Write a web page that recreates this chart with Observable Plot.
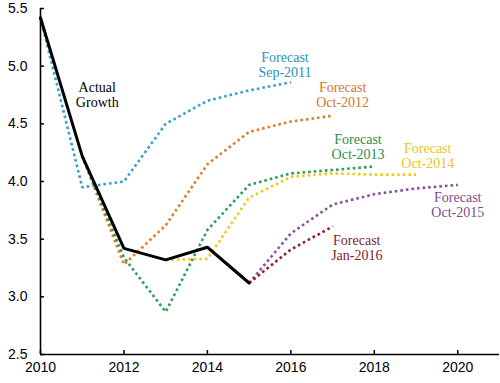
<!DOCTYPE html>
<html>
<head>
<meta charset="utf-8">
<script src="https://cdn.jsdelivr.net/npm/d3@7"></script>
<script src="https://cdn.jsdelivr.net/npm/@observablehq/plot@0.6"></script>
<style>
  html, body { margin: 0; padding: 0; background: #fff; }
  #chart svg { display: block; }
  #chart svg text.lbl { font-family: "Liberation Serif", "Times New Roman", serif; }
</style>
</head>
<body>
<div id="chart"></div>
<script>
// ---- data ----
const years = [2010, 2011, 2012, 2013, 2014, 2015, 2016, 2017, 2018, 2019, 2020];
const actualGrowth = [5.42, 4.22, 3.42, 3.32, 3.43, 3.12, null, null, null, null, null];
const forecastSep2011 = [5.42, 3.95, 4.00, 4.50, 4.70, 4.79, 4.86, null, null, null, null];
const forecastOct2012 = [null, 4.22, 3.28, 3.62, 4.15, 4.43, 4.52, 4.57, null, null, null];
const forecastOct2013 = [null, 4.22, 3.34, 2.87, 3.58, 3.97, 4.07, 4.10, 4.13, null, null];
const forecastOct2014 = [null, null, null, 3.32, 3.33, 3.86, 4.04, 4.07, 4.06, 4.06, null];
const forecastOct2015 = [null, null, null, null, null, 3.12, 3.55, 3.80, 3.89, 3.94, 3.97];
const forecastJan2016 = [null, null, null, null, null, 3.12, 3.41, 3.61, null, null, null];

const seriesNames = ["Sep-2011", "Oct-2012", "Oct-2013", "Oct-2014", "Oct-2015", "Jan-2016"];
const seriesValues = [forecastSep2011, forecastOct2012, forecastOct2013, forecastOct2014, forecastOct2015, forecastJan2016];
const seriesColors = ["#3a9fcc", "#e07d2c", "#2f9c58", "#f4c81c", "#8a50a0", "#8e1f35"];
const textColors = ["#2f8fc0", "#d2772c", "#2a8f4e", "#ecc22a", "#7c4c8e", "#7e1c30"];

const xTicks = [2010, 2012, 2014, 2016, 2018, 2020];
const yTicks = [2.5, 3.0, 3.5, 4.0, 4.5, 5.0, 5.5];

// annotation anchors (data coordinates)
const labelX = [2015.86, 2017.24, 2017.61, 2019.28, 2020.0, 2017.58];
const labelY = [5.01, 4.75, 4.30, 4.22, 3.80, 3.43];
const actualLabel = {x: 2011.36, y: 4.75, text: "Actual\nGrowth"};

// ---- build tables ----
const actualRows = years.map((yr, i) => ({year: yr, value: actualGrowth[i]})).filter(d => d.value != null);
const forecastRows = [];
seriesNames.forEach((name, s) => {
  years.forEach((yr, i) => {
    const v = seriesValues[s][i];
    if (v != null) forecastRows.push({series: name, year: yr, value: v});
  });
});
const labelRows = seriesNames.map((name, s) => ({series: name, x: labelX[s], y: labelY[s], text: "Forecast\n" + name}));

const colorOf = Object.fromEntries(seriesNames.map((n, i) => [n, seriesColors[i]]));
const textColorOf = Object.fromEntries(seriesNames.map((n, i) => [n, textColors[i]]));

const sansFont = "'Liberation Sans', Arial, sans-serif";
const serifFont = "'Liberation Serif', 'Times New Roman', serif";

const chart = Plot.plot({
  width: 500,
  height: 383,
  marginLeft: 40,
  marginRight: 1,
  marginTop: 8,
  marginBottom: 29,
  style: {background: "#fff", color: "#000", fontFamily: sansFont},
  x: {domain: [2010, 2021], ticks: xTicks, tickFormat: d => String(d)},
  y: {domain: [2.5, 5.5], ticks: yTicks, tickFormat: d3.format(".1f")},
  marks: [
    // forecast lines
    ...seriesNames.map(name => Plot.line(forecastRows.filter(d => d.series === name), {
      x: "year", y: "value",
      stroke: colorOf[name], strokeWidth: 2.6,
      strokeDasharray: "2.6 3", strokeLinecap: "butt"
    })),
    // actual line
    Plot.line(actualRows, {x: "year", y: "value", stroke: "#000", strokeWidth: 3, strokeLinejoin: "miter"}),
    // axes
    Plot.axisX({ticks: xTicks, tickSize: 0, tickPadding: 8, tickFormat: d => String(d),
      fontSize: 14, fontFamily: sansFont, label: null}),
    Plot.axisX({ticks: xTicks, tickSize: -4, tickFormat: () => "", label: null, strokeWidth: 1.5}),
    Plot.axisY({ticks: yTicks, tickSize: 0, tickPadding: 13, tickFormat: d3.format(".1f"),
      fontSize: 14, fontFamily: sansFont, label: null}),
    Plot.axisY({ticks: yTicks, tickSize: -4, tickFormat: () => "", label: null, strokeWidth: 1.5}),
    Plot.ruleX([2010], {stroke: "#000", strokeWidth: 1.6}),
    Plot.ruleY([2.5], {stroke: "#000", strokeWidth: 1.6}),
    // labels
    Plot.text(labelRows, {x: "x", y: "y", text: "text", fill: d => textColorOf[d.series],
      fontSize: 14, fontFamily: serifFont, className: "lbl", lineHeight: 1.07,
      textAnchor: "middle", lineAnchor: "middle"}),
    Plot.text([actualLabel], {x: "x", y: "y", text: "text", fill: "#000",
      fontSize: 14, fontFamily: serifFont, className: "lbl", lineHeight: 1.07,
      textAnchor: "middle", lineAnchor: "middle"})
  ]
});
document.getElementById("chart").appendChild(chart);
</script>
</body>
</html>
